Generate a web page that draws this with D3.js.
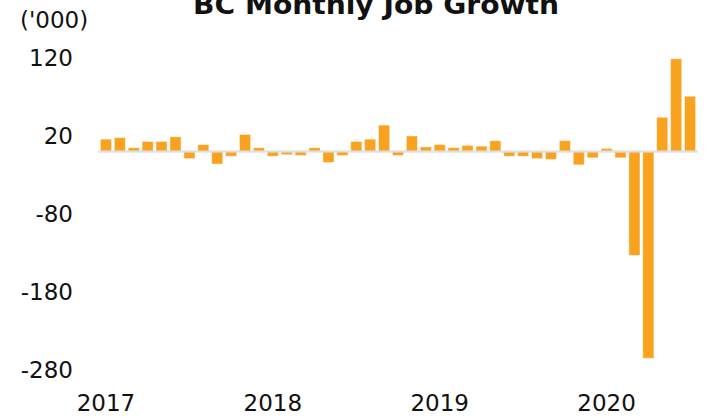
<!DOCTYPE html>
<html>
<head>
<meta charset="utf-8">
<script src="https://cdn.jsdelivr.net/npm/d3@7"></script>
<style>
  html, body { margin: 0; padding: 0; background: #fff; }
  svg { display: block; }
  text { font-family: "DejaVu Sans", "Noto Sans", sans-serif; fill: #111; }
</style>
</head>
<body>
<svg id="chart" width="707" height="418"></svg>
<script>
// Monthly job growth, BC, thousands (Jan 2017 - Jul 2020)
const months = [
  "2017-01","2017-02","2017-03","2017-04","2017-05","2017-06","2017-07","2017-08","2017-09","2017-10","2017-11","2017-12",
  "2018-01","2018-02","2018-03","2018-04","2018-05","2018-06","2018-07","2018-08","2018-09","2018-10","2018-11","2018-12",
  "2019-01","2019-02","2019-03","2019-04","2019-05","2019-06","2019-07","2019-08","2019-09","2019-10","2019-11","2019-12",
  "2020-01","2020-02","2020-03","2020-04","2020-05","2020-06","2020-07"
];
const jobGrowth = [
  16, 18, 5, 13, 13, 19, -9, 9, -16, -6, 22, 5,
  -6, -4, -5, 5, -14, -5, 13, 16, 34, -5, 20, 6,
  9, 5, 8, 7, 14, -6, -6, -9, -10, 14, -17, -8,
  4, -8, -133, -265, 44, 119, 71
];
const yTicks = [120, 20, -80, -180, -280];
const xTickMonths = ["2017-01", "2018-01", "2019-01", "2020-01"];
const xTickLabels = ["2017", "2018", "2019", "2020"];
const title = "BC Monthly Job Growth";
const unitLabel = "('000)";

const svg = d3.select("#chart");

const x = d3.scaleBand()
  .domain(months)
  .range([99, 697])
  .paddingInner(0.2)
  .paddingOuter(0.1);

const y = d3.scaleLinear()
  .domain([-280, 120])
  .range([370, 58]);

// bars
svg.append("g")
  .selectAll("rect")
  .data(months.map((m, i) => ({ m, v: jobGrowth[i] })))
  .join("rect")
  .attr("x", d => x(d.m))
  .attr("width", x.bandwidth())
  .attr("y", d => y(Math.max(0, d.v)))
  .attr("height", d => Math.abs(y(d.v) - y(0)))
  .attr("fill", "#f9a21f")
  .attr("stroke", "#ffffff")
  .attr("stroke-opacity", 0.45)
  .attr("stroke-width", 1);

// zero line
svg.append("line")
  .attr("x1", 98)
  .attr("x2", 698)
  .attr("y1", y(0))
  .attr("y2", y(0))
  .attr("stroke", "#dcdcdc")
  .attr("stroke-opacity", 0.8)
  .attr("stroke-width", 2.5);

// y axis
const yAxis = d3.axisLeft(y).tickValues(yTicks).tickFormat(d => String(d)).tickSize(0).tickPadding(0);
const gy = svg.append("g").attr("transform", "translate(73,0)").call(yAxis);
gy.select(".domain").remove();
gy.selectAll("text")
  .style("font-family", "'DejaVu Sans', 'Noto Sans', sans-serif")
  .style("font-size", "23px")
  .attr("fill", "#111");

// x axis
const xAxis = d3.axisBottom(x)
  .tickValues(xTickMonths)
  .tickFormat(m => xTickLabels[xTickMonths.indexOf(m)])
  .tickSize(0)
  .tickPadding(0);
const gx = svg.append("g").attr("transform", "translate(0,395)").call(xAxis);
gx.select(".domain").remove();
gx.selectAll("text")
  .attr("dy", "0.71em")
  .style("font-family", "'DejaVu Sans', 'Noto Sans', sans-serif")
  .style("font-size", "23px")
  .attr("fill", "#111");

// title
svg.append("text")
  .attr("x", 376)
  .attr("y", 14)
  .attr("text-anchor", "middle")
  .attr("textLength", 366)
  .attr("lengthAdjust", "spacingAndGlyphs")
  .style("font-size", "26px")
  .style("font-weight", "bold")
  .text(title);

// unit label
svg.append("text")
  .attr("x", 20)
  .attr("y", 28)
  .style("font-size", "23px")
  .text(unitLabel);
</script>
</body>
</html>
